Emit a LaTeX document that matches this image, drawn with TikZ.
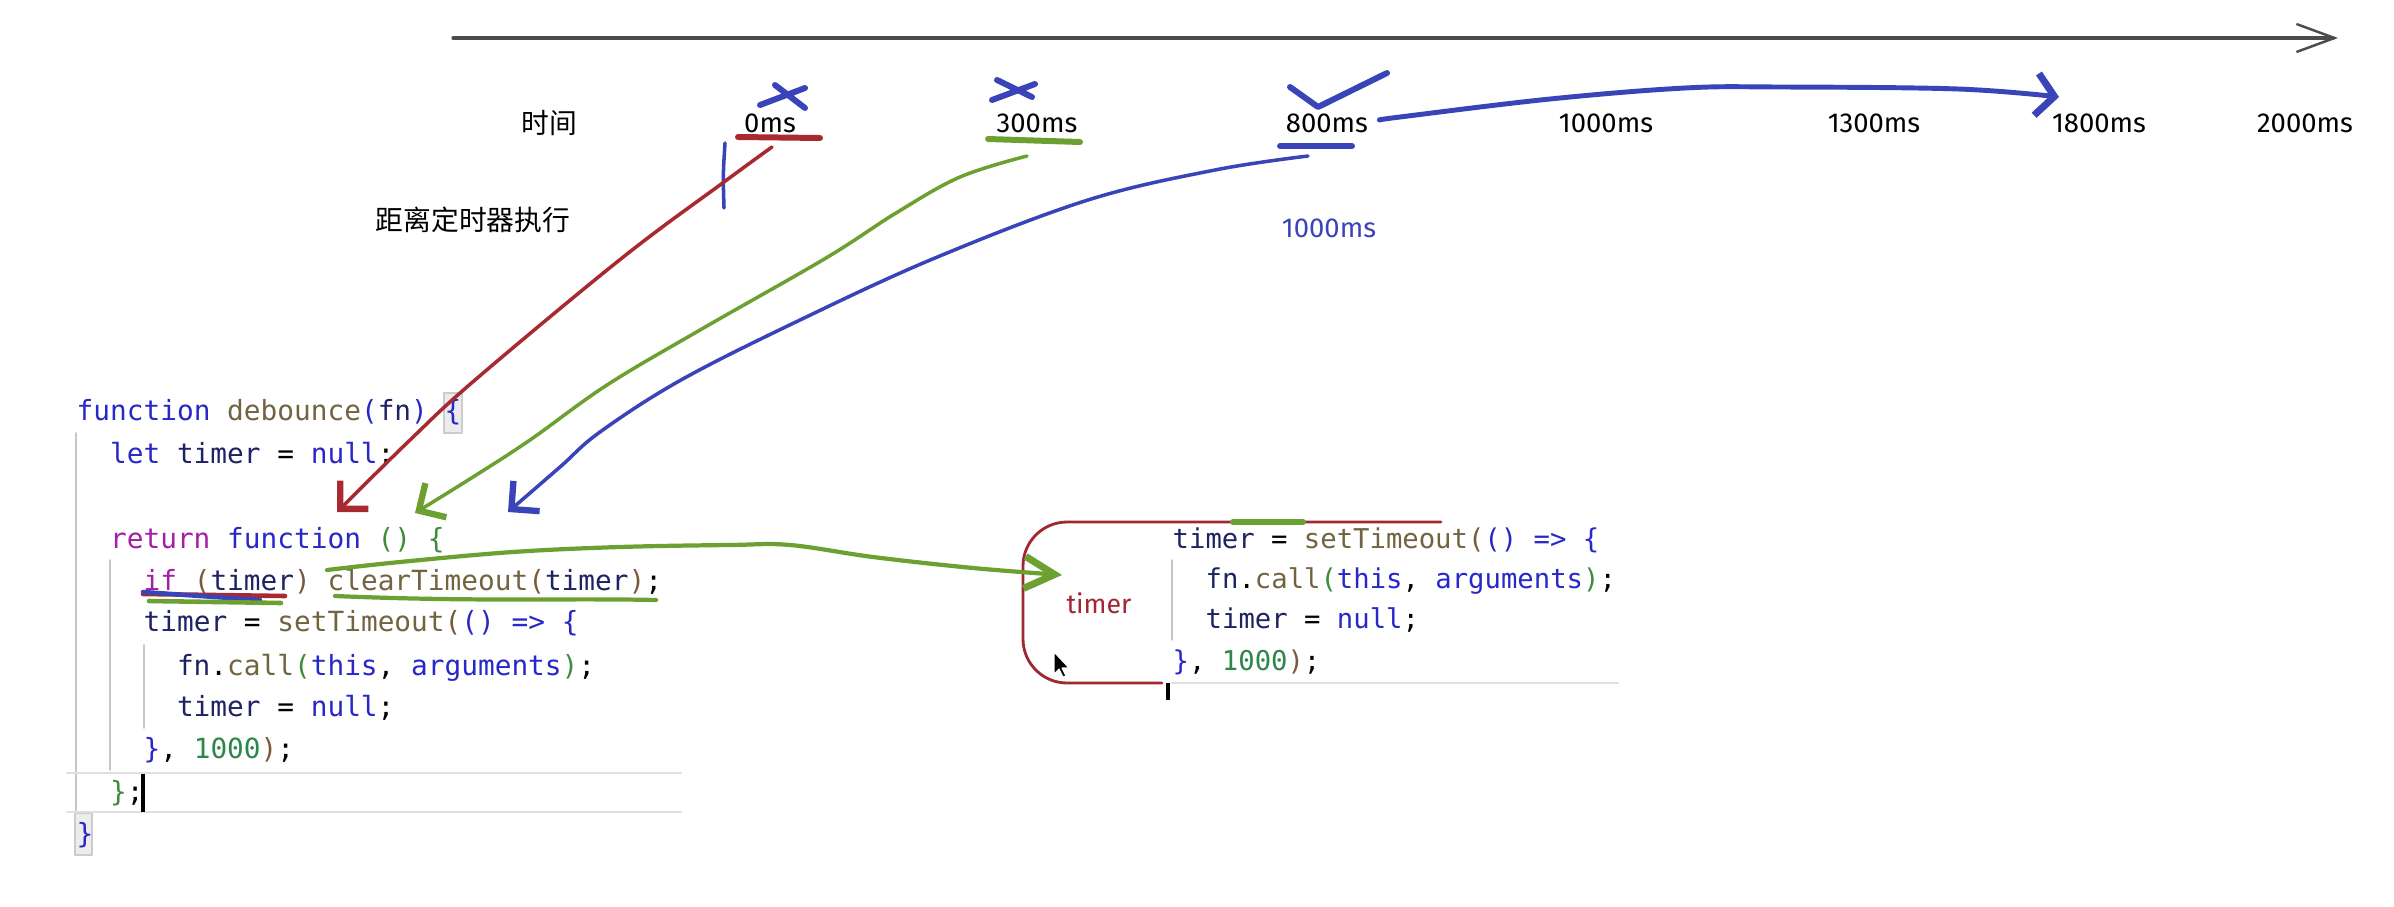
\documentclass[tikz,border=0pt]{standalone}
\usepackage{fontspec}
\setmonofont{DejaVu Sans Mono}
\newfontfamily\hand{Fira Sans}
\newfontfamily\cjk{Noto Sans CJK SC}
\usepackage{xcolor}
\usetikzlibrary{arrows.meta}

\definecolor{penred}{RGB}{168,42,48}
\definecolor{pengreen}{RGB}{108,160,48}
\definecolor{penblue}{RGB}{58,68,185}
\definecolor{boxred}{RGB}{160,40,50}
\definecolor{jskwc}{RGB}{40,40,200}
\definecolor{jsfnc}{RGB}{115,100,65}
\definecolor{jsidc}{RGB}{30,35,100}
\definecolor{jsretc}{RGB}{165,30,165}
\definecolor{jsnumc}{RGB}{45,135,75}
\definecolor{jsgrnc}{RGB}{60,140,60}
\definecolor{jsbrnc}{RGB}{120,90,60}

\newcommand{\jskw}[1]{\textcolor{jskwc}{#1}}
\newcommand{\jsfn}[1]{\textcolor{jsfnc}{#1}}
\newcommand{\jsid}[1]{\textcolor{jsidc}{#1}}
\newcommand{\jsret}[1]{\textcolor{jsretc}{#1}}
\newcommand{\jsnum}[1]{\textcolor{jsnumc}{#1}}
\newcommand{\jsgrn}[1]{\textcolor{jsgrnc}{#1}}
\newcommand{\jsbrn}[1]{\textcolor{jsbrnc}{#1}}

\begin{document}
\begin{tikzpicture}[x=0.01cm, y=-0.01cm, line cap=round, line join=round,
    codeline/.style={anchor=base west, inner sep=0pt, font=\ttfamily\fontsize{7.9}{12}\selectfont},
    codeline2/.style={codeline, font=\ttfamily\fontsize{7.75}{12}\selectfont},
    timetxt/.style={inner sep=0pt, font=\hand\fontsize{7.8}{9}\selectfont},
    cjktxt/.style={inner sep=0pt, font=\cjk\fontsize{7.9}{9}\selectfont},
    guide/.style={gray!45, line width=0.5pt},
    penline/.style={line width=1pt},
    thickpen/.style={line width=1.7pt},
    barb/.style={-{Straight Barb[length=0.2cm, width=0.4cm, line width=1.8pt]}}]
    \fill[white] (0,0) rectangle (2394,906);
    \useasboundingbox (0,0) rectangle (2394,906);

    % time axis
    \coordinate (A0) at (453,38);
    \coordinate (A1) at (2338,38);
    \draw[gray!60!black, line width=0.9pt, -{Straight Barb[length=0.38cm, width=0.28cm, line width=0.7pt]}] (A0) -- (A1);
    \node[cjktxt] (when) at (549,123) {时间};
    \node[cjktxt] (dist) at (473,220) {距离定时器执行};
    \foreach \t/\x in {0/770, 300/1037, 800/1327, 1000/1606, 1300/1874, 1800/2099, 2000/2305}
      \node[timetxt] (t\t) at (\x,123) {\t{}ms};
    \node[timetxt, penblue] (wait) at (1329,228) {1000ms};

    % marks over the times
    \draw[penblue, thickpen] (760,105) -- (805,88) (775,85) -- (805,108);
    \draw[penblue, thickpen] (992,100) -- (1035,84) (997,80) -- (1032,97);
    \draw[penblue, thickpen] (1290,87) -- (1318,107) -- (1387,73);
    \draw[penred, thickpen] (738,137) -- (820,138);
    \draw[pengreen, thickpen] (988,139) -- (1080,142);
    \draw[penblue, thickpen] (1280,146) -- (1352,146);
    \draw[penblue, penline] (725,143) .. controls (723,175) .. (724,208);

    % code on the left
    \fill[gray!15] (444,393) rectangle (462,433);
    \draw[gray!40, line width=0.4pt] (444,393) rectangle (462,433);
    \fill[gray!15] (75,813) rectangle (92,855);
    \draw[gray!40, line width=0.4pt] (75,813) rectangle (92,855);
    \draw[guide] (76,433) -- (76,812);
    \draw[guide] (110,560) -- (110,770);
    \draw[guide] (144,645) -- (144,728);
    \draw[gray!25, line width=0.6pt] (67,773) -- (681,773) (67,812) -- (681,812);
    \node[codeline] (l1) at (76,420) {\jskw{function} \jsfn{debounce}\jskw{(}\jsid{fn}\jskw{)} \jskw{\{}};
    \node[codeline] (l2) at (109.4,463) {\jskw{let} \jsid{timer} = \jskw{null};};
    \node[codeline] (l4) at (109.4,548) {\jsret{return} \jskw{function} \jsgrn{()} \jsgrn{\{}};
    \node[codeline] (l5) at (142.9,590) {\jsret{if} \jsbrn{(}\jsid{timer}\jsbrn{)} \jsfn{clearTimeout}\jsbrn{(}\jsid{timer}\jsbrn{)};};
    \node[codeline] (l6) at (142.9,631) {\jsid{timer} = \jsfn{setTimeout}\jsbrn{(}\jskw{()} \jskw{=>} \jskw{\{}};
    \node[codeline] (l7) at (176.3,675) {\jsid{fn}.\jsfn{call}\jsgrn{(}\jskw{this}, \jskw{arguments}\jsgrn{)};};
    \node[codeline] (l8) at (176.3,716) {\jsid{timer} = \jskw{null};};
    \node[codeline] (l9) at (142.9,758) {\jskw{\}}, \jsnum{1000}\jsbrn{)};};
    \node[codeline] (l10) at (109.4,801) {\jsgrn{\}};};
    \node[codeline] (l11) at (76,843) {\jskw{\}}};
    \draw[black, line width=1pt, line cap=butt] (143,774) -- (143,812);

    % code on the right
    \draw[boxred, line width=0.8pt, rounded corners=0.44cm] (1441,522) -- (1023,522) -- (1023,683) -- (1162,683);
    \draw[pengreen, thickpen] (1233,522) -- (1303,522);
    \draw[guide] (1172,560) -- (1172,640);
    \draw[gray!25, line width=0.6pt] (1172,683) -- (1618,683);
    \node[codeline2] (r1) at (1172,548) {\jsid{timer} = \jsfn{setTimeout}\jsbrn{(}\jskw{()} \jskw{=>} \jskw{\{}};
    \node[codeline2] (r2) at (1205,588) {\jsid{fn}.\jsfn{call}\jsgrn{(}\jskw{this}, \jskw{arguments}\jsgrn{)};};
    \node[codeline2] (r3) at (1205,628) {\jsid{timer} = \jskw{null};};
    \node[codeline2] (r4) at (1172,670) {\jskw{\}}, \jsnum{1000}\jsbrn{)};};
    \draw[black, line width=1pt, line cap=butt] (1168,683) -- (1168,700);
    \node[timetxt, boxred, font=\hand\fontsize{7.6}{9}\selectfont] (tm) at (1099,603) {timer};
    \fill[black, draw=white, line width=0.3pt] (1054,652) -- (1054,674) -- (1059,669) -- (1063,677) -- (1066,676) -- (1062,668) -- (1069,668) -- cycle;

    % underlines in the code
    \draw[penred, penline, line width=1.3pt] (143,594) -- (285,596);
    \draw[penblue, penline, line width=1.3pt] (143,592) .. controls (200,596) .. (260,600);
    \draw[pengreen, penline, line width=1.3pt] (149,601) -- (281,603);
    \draw[pengreen, penline, line width=1.2pt] (335,596) .. controls (480,602) and (560,598) .. (656,600);

    % arrows
    \coordinate (redStart) at (772,147);
    \coordinate (redTip) at (337,512);
    \coordinate (greenStart) at (1027,156);
    \coordinate (greenTip) at (415,513);
    \coordinate (blueStart) at (1308,156);
    \coordinate (blueTip) at (508,512);
    \draw[penred, penline, barb] plot[smooth, tension=0.6] coordinates {(redStart) (724,182) (622,258) (475,380) (410,440) (redTip)};
    \draw[pengreen, penline, barb] plot[smooth, tension=0.6] coordinates {(greenStart) (960,177) (896,213) (826,258) (700,330) (607,385) (530,440) (473,477) (greenTip)};
    \draw[penblue, penline, barb] plot[smooth, tension=0.6] coordinates {(blueStart) (1215,170) (1088,200) (935,258) (800,320) (681,380) (600,432) (560,467) (blueTip)};
    \coordinate (clearStart) at (327,570);
    \coordinate (boxTip) at (1062,575);
    \draw[pengreen, penline, line width=1.2pt, -{Straight Barb[length=0.3cm, width=0.32cm, line width=2pt]}] plot[smooth, tension=0.6] coordinates {(clearStart) (400,562) (513,552) (620,547) (730,545) (790,545) (873,557) (973,568) (boxTip)};
    \coordinate (moveStart) at (1380,120);
    \coordinate (moveTip) at (2059,97);
    \draw[penblue, line width=1.4pt, -{Straight Barb[length=0.18cm, width=0.42cm, line width=2pt]}] plot[smooth, tension=0.6] coordinates {(moveStart) (1400,117) (1550,99) (1685,88) (1780,87) (1958,89) (moveTip)};
\end{tikzpicture}
\end{document}
